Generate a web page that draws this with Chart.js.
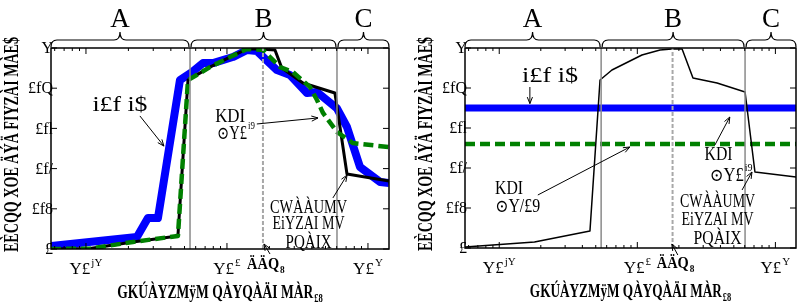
<!DOCTYPE html>
<html><head><meta charset="utf-8">
<script src="https://cdn.jsdelivr.net/npm/chart.js@4"></script>
<style>
html,body{margin:0;padding:0;background:#fff;overflow:hidden;}
#wrap{position:relative;width:806px;height:304px;background:#fff;}
canvas{position:absolute;top:0;}
</style></head><body>
<div id="wrap">
<canvas id="c1" width="403" height="304" style="left:0;width:403px;height:304px"></canvas>
<canvas id="c2" width="403" height="304" style="left:403px;width:403px;height:304px"></canvas>
</div>
<script>
// ---------- data ----------
const xMin = 0.0565, xMax = 14.1;
const yTicks = [0, 0.2, 0.4, 0.6, 0.8, 1];
const yTickLabels = ['£', '£f8', '£f/', '£fl', '£fQ', 'Y'];
const xTicks = [0.1, 1, 10];
const xTickBase = ['Y£', 'Y£', 'Y£'];
const xTickSup = ['jY', '£', 'Y'];
const regionEdges = [0.547, 6.03];
const markFreq = 1.8;
const markLabel = 'ÄÄQ', markSub = '8';
const regionLabels = ['A', 'B', 'C'];
const yTitle = 'EÈCQQ XOE ÄÝÄ FIYZÀI MÀE$';
const xTitle = 'GKÚÀYZMÿM QÀYQÀÄI MÀR', xTitleSub = '£8';

// left panel
const lBlueF = [0.0565,0.23,0.275,0.324,0.464,0.565,0.676,0.796,1.10,1.39,1.63,2.26,2.80,3.69,4.35,6.03,7.10,8.78,12.2,14.1];
const lBlueV = [0.015,0.06,0.154,0.154,0.84,0.88,0.925,0.925,0.955,0.99,0.985,0.89,0.866,0.776,0.781,0.70,0.607,0.408,0.333,0.328];
const lBlackF = [0.0565,0.107,0.215,0.449,0.529,0.757,1.05,1.39,1.71,2.19,2.45,3.46,5.83,7.10,14.1];
const lBlackV = [0.0,0.002,0.035,0.065,0.84,0.905,0.955,0.995,0.995,0.99,0.90,0.826,0.776,0.373,0.338];
const lGreenF = [0.0565,0.107,0.215,0.449,0.529,0.757,1.05,1.39,1.80,2.02,2.38,2.94,3.88,4.35,4.80,6.03,7.83,14.1];
const lGreenV = [0.0,0.002,0.035,0.065,0.84,0.905,0.955,0.995,0.99,0.955,0.905,0.88,0.806,0.741,0.677,0.582,0.527,0.507];

// right panel
const rBlueF = [0.0565, 14.1];
const rBlueV = [0.70, 0.70];
const rGreenF = [0.0565, 14.1];
const rGreenV = [0.52, 0.52];
const rBlackF = [0.0565,0.18,0.454,0.537,0.655,1.08,1.46,1.78,2.11,2.53,3.78,6.03,7.11,14.1];
const rBlackV = [0.005,0.03,0.085,0.84,0.89,0.965,0.99,0.995,0.995,0.85,0.825,0.78,0.38,0.355];

// annotation texts
const annLeft = {
  texts: [
    {t:'i£f i$', fx:0.204, fy:0.711, size:20, w:55},
    {t:'KDI', fx:0.530, fy:0.657, size:19, w:30},
    {t:'⊙Y£', sup:'i9', fx:0.547, fy:0.572, size:18, w:30},
    {t:'CWÀÀUMV', fx:0.762, fy:0.206, size:19, w:77},
    {t:'EiYZAI MV', fx:0.762, fy:0.124, size:19, w:72},
    {t:'PQÀIX', fx:0.762, fy:0.032, size:19, w:46}
  ],
  arrows: [
    [0.263,0.662, 0.334,0.512],
    [0.609,0.622, 0.790,0.652],
    [0.834,0.254, 0.876,0.368],
    [0.648,-0.025, 0.630,0.025]
  ]
};
const annRight = {
  texts: [
    {t:'i£f i$', fx:0.257, fy:0.8575, size:20, w:56},
    {t:'KDI', fx:0.133, fy:0.2925, size:19, w:28},
    {t:'⊙Y/£9', fx:0.159, fy:0.2025, size:18, w:45},
    {t:'KDI', fx:0.766, fy:0.4625, size:19, w:28},
    {t:'⊙Y£', sup:'i9', fx:0.804, fy:0.36, size:18, w:34},
    {t:'CWÀÀUMV', fx:0.763, fy:0.2275, size:19, w:75},
    {t:'EiYZAI MV', fx:0.763, fy:0.1375, size:19, w:72},
    {t:'PQÀIX', fx:0.763, fy:0.0425, size:19, w:48}
  ],
  arrows: [
    [0.196,0.805, 0.196,0.722],
    [0.22,0.265, 0.498,0.505],
    [0.755,0.515, 0.80,0.655],
    [0.837,0.29, 0.867,0.38],
    [0.643,-0.035, 0.625,0.02]
  ]
};

// ---------- helpers ----------
const FONT = '"Liberation Serif","DejaVu Serif",serif';
function pts(f, v){ return f.map((x,i)=>({x:x, y:v[i]})); }

function drawRich(ctx, cx, cy, base, size, w, sup, sub, bold, align){
  const b = bold ? 'bold ' : '';
  ctx.font = b + size + 'px ' + FONT;
  const bw = ctx.measureText(base).width;
  const sx = w ? w / bw : 1;
  const ss = Math.round(size*0.62);
  ctx.font = b + ss + 'px ' + FONT;
  const supw = sup ? ctx.measureText(sup).width : 0;
  const subw = sub ? ctx.measureText(sub).width : 0;
  const total = bw*sx + Math.max(supw, subw)*sx + (sup||sub ? 1 : 0);
  let x0 = align === 'right' ? cx - total : cx - total/2;
  ctx.textBaseline = 'middle';
  ctx.textAlign = 'left';
  ctx.save(); ctx.translate(x0, cy); ctx.scale(sx,1);
  ctx.font = b + size + 'px ' + FONT; ctx.fillText(base, 0, 0);
  ctx.restore();
  if (sup){
    ctx.save(); ctx.translate(x0 + bw*sx + 1, cy - size*0.42); ctx.scale(sx,1);
    ctx.font = b + ss + 'px ' + FONT; ctx.fillText(sup, 0, 0); ctx.restore();
  }
  if (sub){
    ctx.save(); ctx.translate(x0 + bw*sx + 1, cy + size*0.32); ctx.scale(sx,1);
    ctx.font = b + ss + 'px ' + FONT; ctx.fillText(sub, 0, 0); ctx.restore();
  }
}

function arrow(ctx, x1, y1, x2, y2){
  ctx.beginPath(); ctx.moveTo(x1,y1); ctx.lineTo(x2,y2); ctx.stroke();
  const ang = Math.atan2(y2-y1, x2-x1), L = 7, h = 0.38;
  ctx.beginPath();
  ctx.moveTo(x2 - L*Math.cos(ang-h), y2 - L*Math.sin(ang-h));
  ctx.lineTo(x2, y2);
  ctx.lineTo(x2 - L*Math.cos(ang+h), y2 - L*Math.sin(ang+h));
  ctx.stroke();
}

function brace(ctx, x1, x2, yb, ym, yt){
  const xm = (x1+x2)/2, r = 6;
  ctx.beginPath();
  ctx.moveTo(x1, yb);
  ctx.quadraticCurveTo(x1, ym, x1 + r, ym);
  ctx.lineTo(xm - r, ym);
  ctx.quadraticCurveTo(xm, ym, xm, yt);
  ctx.quadraticCurveTo(xm, ym, xm + r, ym);
  ctx.lineTo(x2 - r, ym);
  ctx.quadraticCurveTo(x2, ym, x2, yb);
  ctx.stroke();
}

const decor = {
  id: 'decor',
  afterDraw(chart, args, o){
    const ctx = chart.ctx, a = chart.chartArea, xs = chart.scales.x, ys = chart.scales.y;
    const W = a.right - a.left, H = a.bottom - a.top;
    const fx = f => a.left + f*W, fy = f => a.bottom - f*H;
    ctx.save();
    ctx.fillStyle = '#000'; ctx.strokeStyle = '#000';
    // frame
    ctx.lineWidth = 1.5;
    ctx.strokeRect(a.left, a.top, W, H);
    // x ticks (log, inward)
    ctx.lineWidth = 1;
    for (let k=-2; k<=1; k++) for (let m=1; m<10; m++){
      const v = m*Math.pow(10,k);
      if (v < xMin || v > xMax) continue;
      const px = xs.getPixelForValue(v), len = m===1 ? 6 : 3;
      ctx.beginPath(); ctx.moveTo(px, a.bottom); ctx.lineTo(px, a.bottom-len);
      ctx.moveTo(px, a.top); ctx.lineTo(px, a.top+len); ctx.stroke();
    }
    // y ticks
    yTicks.forEach(v => {
      const py = ys.getPixelForValue(v);
      ctx.beginPath(); ctx.moveTo(a.left, py); ctx.lineTo(a.left+6, py);
      ctx.moveTo(a.right, py); ctx.lineTo(a.right-6, py); ctx.stroke();
    });
    // y tick labels
    yTicks.forEach((v,i) => {
      drawRich(ctx, a.left+2, ys.getPixelForValue(v)+1, yTickLabels[i], 16, 0, null, null, false, 'right');
    });
    // x tick labels
    xTicks.forEach((v,i) => {
      drawRich(ctx, xs.getPixelForValue(v), a.bottom+21, xTickBase[i], 17, 0, xTickSup[i], null, false);
    });
    // mark label
    drawRich(ctx, xs.getPixelForValue(markFreq)+3, a.bottom+16, markLabel, 17, 32, null, markSub, true);
    // axis titles
    drawRich(ctx, (a.left+a.right)/2, a.bottom+44, xTitle, 19, W*0.58, null, xTitleSub, true);
    ctx.save();
    ctx.translate(o.ylx, (a.top+a.bottom)/2 - 4);
    ctx.rotate(-Math.PI/2);
    drawRich(ctx, 0, 0, yTitle, 21, H*1.07, null, null, true);
    ctx.restore();
    // braces
    const e0 = xs.getPixelForValue(regionEdges[0]), e1 = xs.getPixelForValue(regionEdges[1]);
    const spans = [[a.left, e0-1], [e0+1, e1-1], [e1+1, a.right]];
    ctx.lineWidth = 1.2;
    spans.forEach((s,i) => {
      brace(ctx, s[0], s[1], a.top-1, a.top-8, a.top-16);
      ctx.font = '27px ' + FONT; ctx.textAlign = 'center'; ctx.textBaseline = 'middle';
      ctx.fillText(regionLabels[i], (s[0]+s[1])/2, a.top-28);
    });
    // annotations
    o.ann.texts.forEach(t => drawRich(ctx, fx(t.fx), fy(t.fy), t.t, t.size, t.w, t.sup, t.sub, false));
    ctx.lineWidth = 1;
    o.ann.arrows.forEach(r => arrow(ctx, fx(r[0]), fy(r[1]), fx(r[2]), fy(r[3])));
    ctx.restore();
  }
};

function vline(x, color, width, dash){
  return {data:[{x:x,y:0},{x:x,y:1}], borderColor:color, borderWidth:width, borderDash:dash||[], pointRadius:0, order:0, clip:0};
}

function makeChart(id, pad, series, ann, ylx){
  return new Chart(document.getElementById(id), {
    type: 'line',
    data: { datasets: series.concat([
      vline(regionEdges[0], '#8a8a8a', 1.5),
      vline(regionEdges[1], '#8a8a8a', 1.5),
      vline(markFreq, '#a8a8a8', 2, [4,2])
    ]) },
    options: {
      responsive: false, animation: false, devicePixelRatio: 1,
      layout: { padding: pad },
      parsing: true,
      plugins: { legend:{display:false}, tooltip:{enabled:false}, decor:{ann:ann, ylx:ylx} },
      elements: { line:{tension:0, borderCapStyle:'butt', borderJoinStyle:'round'}, point:{radius:0} },
      scales: {
        x: { type:'logarithmic', min:xMin, max:xMax, display:false },
        y: { type:'linear', min:0, max:1, display:false }
      }
    },
    plugins: [decor]
  });
}

makeChart('c1', {left:51, right:14, top:48, bottom:55}, [
  {data:pts(lGreenF,lGreenV), borderColor:'#008000', borderWidth:4.5, borderDash:[10,5], pointRadius:0, order:1, clip:0},
  {data:pts(lBlackF,lBlackV), borderColor:'#000000', borderWidth:3, pointRadius:0, order:2, clip:0},
  {data:pts(lBlueF,lBlueV), borderColor:'#0000ff', borderWidth:8, pointRadius:0, order:3, clip:0}
], annLeft, 13);

makeChart('c2', {left:62, right:10, top:48, bottom:56}, [
  {data:pts(rBlackF,rBlackV), borderColor:'#000000', borderWidth:1.5, pointRadius:0, order:1, clip:0},
  {data:pts(rGreenF,rGreenV), borderColor:'#008000', borderWidth:4.5, borderDash:[10,5], pointRadius:0, order:2, clip:0},
  {data:pts(rBlueF,rBlueV), borderColor:'#0000ff', borderWidth:7, pointRadius:0, order:3, clip:0}
], annRight, 24);
</script>
</body></html>
